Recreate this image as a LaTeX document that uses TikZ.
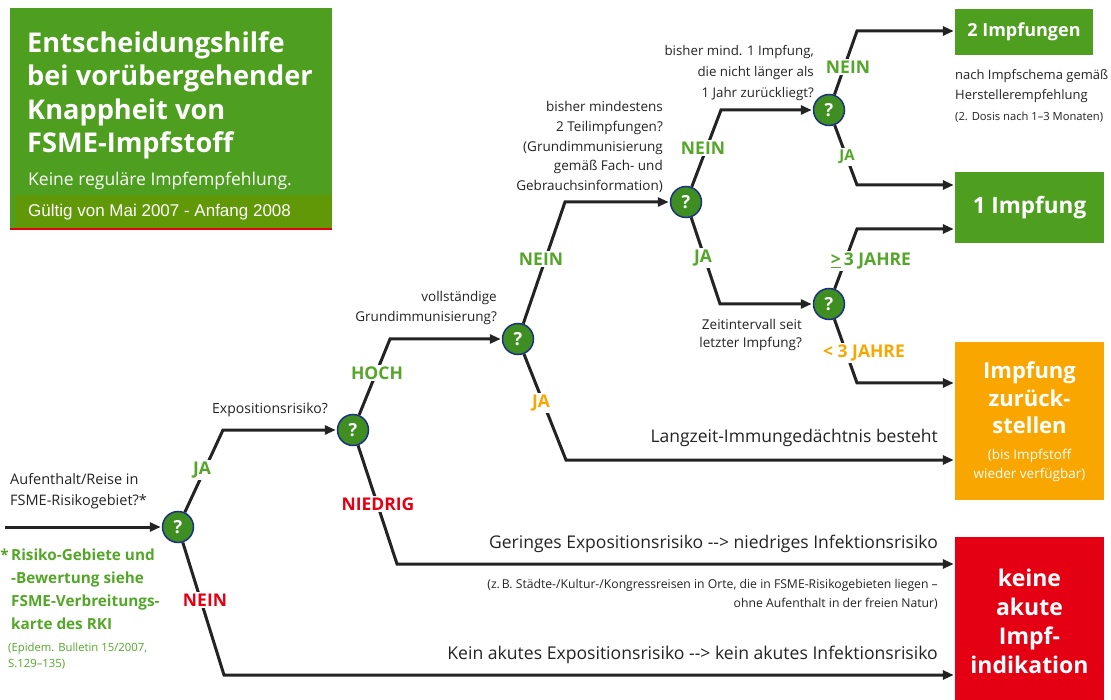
\documentclass[tikz,border=0pt]{standalone}
\usepackage{fontspec}
\setmainfont{Open Sans}
\newfontfamily\arialfont{Liberation Sans}
\usetikzlibrary{arrows.meta}

\definecolor{fsmegreen}{RGB}{78,158,32}
\definecolor{barolive}{RGB}{96,152,8}
\definecolor{askgreen}{RGB}{62,142,34}
\definecolor{ringblue}{RGB}{28,48,130}
\definecolor{yesgreen}{RGB}{84,166,40}
\definecolor{waitorange}{RGB}{250,166,0}
\definecolor{stopred}{RGB}{228,0,18}
\definecolor{inkgrey}{RGB}{35,35,35}

\newcommand\leadsarrow{-\kern0pt-\kern0pt>}

\tikzset{
  ask/.style={circle, fill=askgreen, draw=ringblue, line width=1.5pt, minimum size=31pt,
    inner sep=0pt, text=white, font=\bfseries\fontsize{18}{18}\selectfont},
  link/.style={line width=3pt, draw=inkgrey, shorten >=1pt, -{Triangle[length=11pt,width=9pt]}},
  qtext/.style={text=inkgrey, inner sep=0pt, align=right, anchor=east, font=\fontsize{13.5}{20.5}\selectfont},
  yeslbl/.style={fill=white, inner sep=2pt, text=yesgreen, font=\bfseries\fontsize{17.5}{17.5}\selectfont},
  nolbl/.style={yeslbl, text=stopred},
  waitlbl/.style={yeslbl, text=waitorange},
  result/.style={fill=#1, text=white, inner sep=0pt, align=center, font=\bfseries\fontsize{22}{29}\selectfont}
}

\begin{document}
\begin{tikzpicture}[x=1pt,y=-1pt]
  \useasboundingbox (0,0) rectangle (1111,700);

  % Title box
  \fill[fsmegreen] (10,8) rectangle (332,229);
  \fill[barolive] (15,195) rectangle (332,228);
  \draw[stopred, line width=1.5pt] (10,229) -- (332,229);
  \node[anchor=north west, inner sep=0pt, align=left, text=white,
    font=\bfseries\fontsize{27.2}{33.5}\selectfont] (title) at (27,31)
    {Entscheidungshilfe\\bei vorübergehender\\Knappheit von\\FSME-Impfstoff};
  \node[anchor=west, inner sep=0pt, text=white, font=\fontsize{17.5}{20}\selectfont] (subtitle) at (28,181)
    {Keine reguläre Impfempfehlung.};
  \node[anchor=west, inner sep=0pt, text=white, font=\arialfont\fontsize{17}{18}\selectfont] (valid) at (28,212)
    {Gültig von Mai 2007 - Anfang 2008};

  % Results
  \node[result=fsmegreen, minimum width=138pt, minimum height=46pt, font=\bfseries\fontsize{18}{24}\selectfont]
    (imp2) at (1024,32) {2 Impfungen};
  \node[result=fsmegreen, minimum width=149pt, minimum height=71pt, font=\bfseries\fontsize{22.5}{24}\selectfont]
    (imp1) at (1029.5,207.5) {1 Impfung};
  \node[result=waitorange, minimum width=149pt, minimum height=158pt] (hold) at (1029.5,421) {};
  \node[result=stopred, minimum width=149pt, minimum height=163pt] (stop) at (1029.5,618.5) {};
  \node[result=waitorange, font=\bfseries\fontsize{22}{27.5}\selectfont] (holdtext) at (1029.5,398)
    {Impfung\\zurück-\\stellen};
  \node[inner sep=0pt, align=center, text=white, font=\fontsize{13.5}{19}\selectfont]
    (holdnote) at (1029.5,465) {(bis Impfstoff\\wieder verfügbar)};
  \node[result=stopred, font=\bfseries\fontsize{23}{29}\selectfont] (stoptext) at (1029.5,621)
    {keine\\akute\\Impf-\\indikation};

  % Questions
  \foreach \n/\x/\y in {q1/178/527, q2/353/430, q3/518/339, q4/686/202, q5/829/110, q6/829/304}
    \node[ask] (\n) at (\x,\y) {?};

  % Corners
  \coordinate (start) at (5,527);
  \coordinate (c1u) at (223,430);
  \coordinate (c1d) at (224,675);
  \coordinate (c2u) at (390,339);
  \coordinate (c2d) at (397,564);
  \coordinate (c3u) at (565,202);
  \coordinate (c3d) at (566,460);
  \coordinate (c4u) at (721,110);
  \coordinate (c4d) at (720,304);
  \coordinate (c5u) at (857,31);
  \coordinate (c5d) at (857,185);
  \coordinate (c6u) at (857,229);
  \coordinate (c6d) at (857,383);

  % Edges
  \draw[link] (start) -- (q1);
  \foreach \a/\b/\c in {q1/c1u/q2, q1/c1d/stop, q2/c2u/q3, q2/c2d/stop, q3/c3u/q4, q3/c3d/hold,
      q4/c4u/q5, q4/c4d/q6, q5/c5u/imp2, q5/c5d/imp1, q6/c6u/imp1, q6/c6d/hold}
    \draw[link] (\a) -- (\b) -- (\b -| \c.west);

  % Answers
  \node[yeslbl] (ja1) at (202,470) {JA};
  \node[nolbl] (nein1) at (205,600) {NEIN};
  \node[yeslbl] (hoch) at (377,373) {HOCH};
  \node[nolbl] (niedrig) at (378,504) {NIEDRIG};
  \node[yeslbl] (nein3) at (541,259) {NEIN};
  \node[waitlbl] (ja3) at (541,403) {JA};
  \node[yeslbl] (nein4) at (703,148) {NEIN};
  \node[yeslbl] (ja4) at (703,258) {JA};
  \node[yeslbl] (nein5) at (848,67) {NEIN};
  \node[yeslbl, font=\bfseries\fontsize{15}{15}\selectfont] (ja5) at (847,157) {JA};
  \node[yeslbl] (longago) at (871,261) {\underline{>}\,3 JAHRE};
  \node[waitlbl] (recent) at (864,353) {< 3 JAHRE};

  % Questions text
  \node[qtext, align=left, anchor=west, font=\fontsize{14.5}{20.5}\selectfont] (stay) at (10,491)
    {Aufenthalt/Reise in\\FSME-Risikogebiet?*};
  \node[anchor=north west, inner sep=0pt, align=left, text=yesgreen,
    font=\bfseries\fontsize{15.3}{23}\selectfont] (risknote) at (11,549)
    {\llap{*\,}Risiko-Gebiete und\\-Bewertung siehe\\FSME-Verbreitungs-\\karte des RKI};
  \node[anchor=north west, inner sep=0pt, align=left, text=yesgreen,
    font=\fontsize{11.3}{16}\selectfont] (source) at (8,643)
    {(Epidem. Bulletin 15/2007,\\S.129--135)};
  \node[qtext, anchor=center, font=\fontsize{14}{20}\selectfont] (expo) at (270,410) {Expositionsrisiko?};
  \node[qtext] (full) at (497,308) {vollständige\\Grundimmunisierung?};
  \node[qtext, font=\fontsize{13.5}{19.8}\selectfont] (partial) at (663,147)
    {bisher mindestens\\2 Teilimpfungen?\\(Grundimmunisierung\\gemäß Fach- und\\Gebrauchsinformation)};
  \node[qtext, font=\fontsize{13.3}{21}\selectfont] (recentq) at (814,73)
    {bisher mind. 1 Impfung,\\die nicht länger als\\1 Jahr zurückliegt?};
  \node[qtext, font=\fontsize{13.5}{18}\selectfont] (interval) at (802,335) {Zeitintervall seit\\letzter Impfung?};
  \node[qtext, align=left, anchor=north west, font=\fontsize{13}{20.5}\selectfont] (scheme) at (955,69)
    {nach Impfschema gemäß\\Herstellerempfehlung\\{\fontsize{11.2}{14}\selectfont(2. Dosis nach 1--3 Monaten)}};

  % Outcome text
  \node[qtext, font=\fontsize{17.5}{22}\selectfont] (memory) at (938,438) {Langzeit-Immungedächtnis besteht};
  \node[qtext, font=\fontsize{17.5}{22}\selectfont] (low) at (938,544)
    {Geringes Expositionsrisiko \leadsarrow{} niedriges Infektionsrisiko};
  \node[qtext, font=\fontsize{12.2}{19}\selectfont] (example) at (938,594)
    {(z.\,B. Städte-/Kultur-/Kongressreisen in Orte, die in FSME-Risikogebieten liegen --\\ohne Aufenthalt in der freien Natur)};
  \node[qtext, font=\fontsize{17.6}{22}\selectfont] (none) at (938,655)
    {Kein akutes Expositionsrisiko \leadsarrow{} kein akutes Infektionsrisiko};
\end{tikzpicture}
\end{document}
